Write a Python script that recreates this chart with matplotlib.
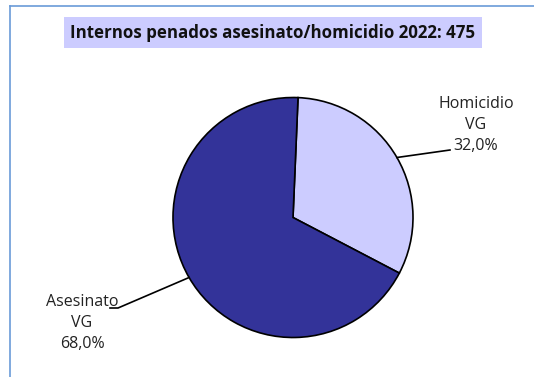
import numpy as np
import matplotlib.pyplot as plt
from matplotlib.lines import Line2D

categories = ['Homicidio\nVG', 'Asesinato\nVG']
shares = [32.0, 68.0]
colors = ['#ccccff', '#333399']
title = 'Internos penados asesinato/homicidio 2022: 475'

W, H = 534, 377
fig = plt.figure(figsize=(W / 100, H / 100), dpi=100)
ax = fig.add_axes([0, 0, 1, 1])

cx, cy, r = 293, H - 217.5, 120
wedges, _ = ax.pie(shares, colors=colors, startangle=87.6, counterclock=False,
                   center=(cx, cy), radius=r,
                   wedgeprops=dict(edgecolor='black', linewidth=1.2))
ax.set_xlim(0, W)
ax.set_ylim(0, H)
ax.axis('off')

# labels with leader lines
label_pos = [(476, H - 125), (82, H - 323)]
line_end = [[(450, H - 150)], [(118, H - 308), (110, H - 308)]]
for w, cat, val, (tx, ty), ends in zip(wedges, categories, shares, label_pos, line_end):
    mid = np.deg2rad((w.theta1 + w.theta2) / 2)
    sx, sy = cx + r * np.cos(mid), cy + r * np.sin(mid)
    xs = [sx] + [p[0] for p in ends]
    ys = [sy] + [p[1] for p in ends]
    ax.plot(xs, ys, color='black', lw=1.2)
    ax.text(tx, ty, cat + '\n' + ('%.1f%%' % val).replace('.', ','),
            ha='center', va='center', fontsize=11.5, family='Open Sans',
            color='#222222', linespacing=1.42)

# title
fig.text(273 / W, 1 - 32.5 / H, title, ha='center', va='center',
         fontsize=12.2, fontweight='bold', family='Open Sans', color='#111111',
         bbox=dict(facecolor='#ccccff', edgecolor='none', pad=4.5))

# chart area border (top and left)
fig.add_artist(Line2D([10 / W, 1], [1 - 6 / H, 1 - 6 / H], color='#6a9bd8', lw=1.2))
fig.add_artist(Line2D([10 / W, 10 / W], [0, 1 - 6 / H], color='#6a9bd8', lw=1.2))

fig.savefig('out.png', dpi=100)
